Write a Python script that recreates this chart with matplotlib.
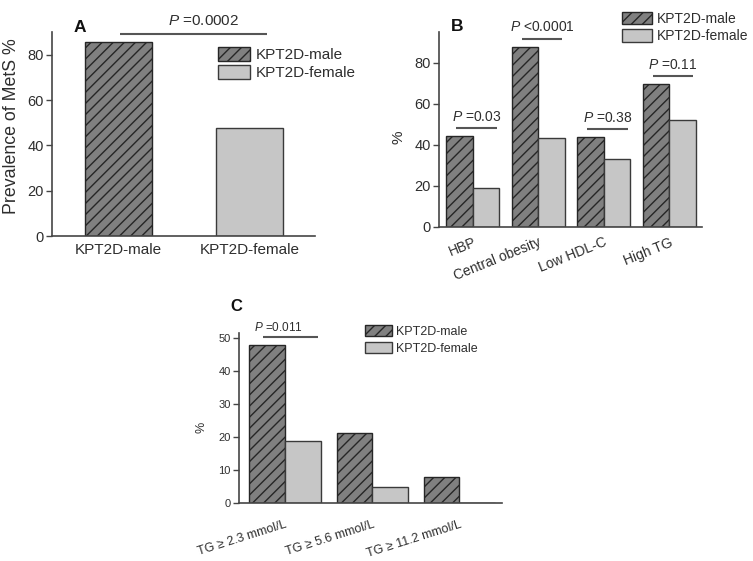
import matplotlib
matplotlib.use('Agg')
import matplotlib.pyplot as plt
import numpy as np
from matplotlib.patches import Patch

plt.rcParams['font.family'] = ['Liberation Sans', 'DejaVu Sans']
plt.rcParams['mathtext.fontset'] = 'custom'
plt.rcParams['mathtext.it'] = 'Liberation Sans:italic'
plt.rcParams['mathtext.rm'] = 'Liberation Sans'
plt.rcParams['hatch.linewidth'] = 1.0

# ---------------- data ----------------
series_labels = ['KPT2D-male', 'KPT2D-female']

panelA_groups = ['KPT2D-male', 'KPT2D-female']
panelA_values = [85.7, 47.6]
panelA_p = '=0.0002'

panelB_categories = ['HBP', 'Central obesity', 'Low HDL-C', 'High TG']
panelB_male = [44.3, 87.8, 43.8, 69.6]
panelB_female = [19.0, 43.2, 33.3, 52.3]
panelB_p = ['=0.03', '<0.0001', '=0.38', '=0.11']

panelC_categories = ['TG \u2265 2.3 mmol/L', 'TG \u2265 5.6 mmol/L', 'TG \u2265 11.2 mmol/L']
panelC_male = [48.0, 21.2, 8.1]
panelC_female = [18.9, 4.8, 0.0]
panelC_p = '=0.011'

# ---------------- style ----------------
TXT = '#2e2e2e'
AXC = '#454545'
MALE = dict(facecolor='#808080', edgecolor='#262626', hatch='///', linewidth=1.0)
FEMALE = dict(facecolor='#c6c6c6', edgecolor='#3a3a3a', linewidth=1.0)

W, H = 753, 561
fig = plt.figure(figsize=(W / 100, H / 100), dpi=100)


def axes_px(l, r, t, b):
    return fig.add_axes([l / W, 1 - b / H, (r - l) / W, (b - t) / H])


def style(ax, yfs, xfs):
    for s in ('top', 'right'):
        ax.spines[s].set_visible(False)
    for s in ('left', 'bottom'):
        ax.spines[s].set_color(AXC)
        ax.spines[s].set_linewidth(1.2)
    ax.tick_params(axis='y', direction='out', length=4, width=1.0, color=AXC,
                   labelsize=yfs, labelcolor=TXT, pad=2)
    ax.tick_params(axis='x', length=0, labelsize=xfs, labelcolor=TXT)


def legend(ax, x, y, fs, hl, hh, ls):
    handles = [Patch(**MALE), Patch(**FEMALE)]
    leg = ax.legend(handles, series_labels, loc='upper left', bbox_to_anchor=(x, y),
                    frameon=False, borderpad=0, borderaxespad=0, fontsize=fs,
                    handlelength=hl, handleheight=hh, labelspacing=ls, handletextpad=0.35)
    for t in leg.get_texts():
        t.set_color(TXT)


def pbar(ax, x0, x1, y, s, fs, tx=None, dy=3):
    ax.plot([x0, x1], [y, y], color='#555555', lw=1.5, clip_on=False, solid_capstyle='butt')
    if tx is None:
        tx = (x0 + x1) / 2
    ax.annotate(r'$P$ ' + s, (tx, y), xytext=(0, dy), textcoords='offset points',
                ha='center', va='bottom', fontsize=fs, color=TXT, annotation_clip=False)


# ---------------- Panel A ----------------
axA = axes_px(52, 315, 32, 236)
xa = np.arange(len(panelA_groups))
axA.bar(xa[0], panelA_values[0], width=0.51, **MALE)
axA.bar(xa[1], panelA_values[1], width=0.51, **FEMALE)
axA.set_xlim(-0.51, 1.5)
axA.set_ylim(0, 90)
axA.set_yticks([0, 20, 40, 60, 80])
axA.set_xticks(xa)
axA.set_xticklabels(panelA_groups)
style(axA, 10.5, 11)
axA.tick_params(axis='x', pad=5)
axA.set_ylabel('Prevalence of MetS %', fontsize=12.8, color=TXT)
axA.yaxis.set_label_coords(-0.122, 0.54)
pbar(axA, xa[0] + 0.01, xa[1] + 0.134, max(panelA_values) + 3.5, panelA_p, 11, tx=0.65, dy=4)
legend(axA, 0.631, 0.926, 11, 2.1, 1.0, 0.18)
fig.text(80 / W, 1 - 27 / H, 'A', fontsize=12.5, fontweight='bold', ha='center', va='center', color='#111')

# ---------------- Panel B ----------------
axB = axes_px(439, 702, 32, 227)
xb = np.arange(len(panelB_categories))
wb = 0.405
axB.bar(xb - wb / 2, panelB_male, width=wb, **MALE)
axB.bar(xb + wb / 2, panelB_female, width=wb, **FEMALE)
axB.set_xlim(-0.515, 3.5)
axB.set_ylim(0, 95)
axB.set_yticks([0, 20, 40, 60, 80])
axB.set_xticks(xb)
axB.set_xticklabels(panelB_categories, rotation=22, ha='right', va='top', rotation_mode='anchor')
style(axB, 10.5, 10)
axB.tick_params(axis='x', pad=6)
axB.set_ylabel('%', fontsize=11, color=TXT)
axB.yaxis.set_label_coords(-0.129, 0.46)
for i, s in enumerate(panelB_p):
    top = max(panelB_male[i], panelB_female[i])
    pbar(axB, xb[i] - 0.25, xb[i] + 0.37, top + 4, s, 10, dy=3)
legend(axB, 0.695, 1.104, 10, 2.16, 1.0, 0.27)
fig.text(456.7 / W, 1 - 26.7 / H, 'B', fontsize=12.5, fontweight='bold', ha='center', va='center', color='#111')

# ---------------- Panel C ----------------
axC = axes_px(239.3, 501.7, 333.3, 503.3)
xc = np.arange(len(panelC_categories))
wc = 0.408
axC.bar(xc - wc / 2, panelC_male, width=wc, **MALE)
axC.bar(xc + wc / 2, panelC_female, width=wc, **FEMALE)
axC.set_xlim(-0.525, 2.49)
axC.set_ylim(0, 51.5)
axC.set_yticks([0, 10, 20, 30, 40, 50])
axC.set_xticks(xc)
axC.set_xticklabels(panelC_categories, rotation=17.5, ha='right', va='top', rotation_mode='anchor')
style(axC, 8, 9)
axC.tick_params(axis='x', pad=11)
axC.set_ylabel('%', fontsize=9, color=TXT)
axC.yaxis.set_label_coords(-0.123, 0.449)
pbar(axC, xc[0] - 0.256, xc[0] + 0.376, max(panelC_male[0], panelC_female[0]) + 2.3, panelC_p, 8.5,
     tx=xc[0] - 0.07, dy=2)
legend(axC, 0.479, 1.049, 9, 2.13, 1.0, 0.35)
fig.text(236.7 / W, 1 - 306.7 / H, 'C', fontsize=12, fontweight='bold', ha='center', va='center', color='#111')

fig.savefig('out.png', dpi=100)
